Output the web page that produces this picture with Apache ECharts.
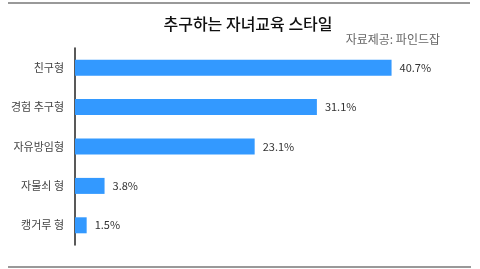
<!DOCTYPE html>
<html><head><meta charset="utf-8">
<script src="https://cdn.jsdelivr.net/npm/echarts@6/dist/echarts.min.js"></script>
<style>html,body{margin:0;padding:0;background:#fff}#c{width:480px;height:269px}</style>
</head><body><div id="c"></div>
<script>
const categories = ['친구형', '경험 추구형', '자유방임형', '자물쇠 형', '캥거루 형'];
const values = [40.7, 31.1, 23.1, 3.8, 1.5];
const titleText = '추구하는 자녀교육 스타일';
const sourceText = '자료제공: 파인드잡';

const font = '"Noto Sans CJK KR", "Noto Sans", sans-serif';
const chart = echarts.init(document.getElementById('c'), null, {renderer: 'canvas'});
chart.setOption({
  animation: false,
  backgroundColor: '#fff',
  title: [{
    text: titleText, left: 243, top: 11, textAlign: 'center',
    textStyle: {fontFamily: font, fontSize: 16, fontWeight: 500, color: '#111'}
  }, {
    text: sourceText, right: 35, top: 28,
    textStyle: {fontFamily: font, fontSize: 12, fontWeight: 'normal', color: '#666'}
  }],
  grid: {left: 75, top: 48, height: 197, right: 55, containLabel: false},
  xAxis: {type: 'value', min: 0, max: 45, show: false},
  yAxis: {
    type: 'category', data: categories, inverse: true,
    axisLine: {show: true, lineStyle: {color: '#222', width: 1.5}},
    axisTick: {show: false},
    axisLabel: {fontFamily: font, fontSize: 11, color: '#444', margin: 11}
  },
  series: [{
    type: 'bar', data: values, barWidth: 16,
    itemStyle: {color: '#3399ff'},
    label: {show: true, position: 'right', distance: 8, formatter: p => p.value + '%',
      fontFamily: font, fontSize: 11, color: '#333'}
  }],
  graphic: [
    {type: 'line', shape: {x1: 8, y1: 3, x2: 470, y2: 3}, style: {stroke: '#999', lineWidth: 2}},
    {type: 'line', shape: {x1: 8, y1: 267, x2: 471, y2: 267}, style: {stroke: '#999', lineWidth: 2}}
  ]
});
</script></body></html>
